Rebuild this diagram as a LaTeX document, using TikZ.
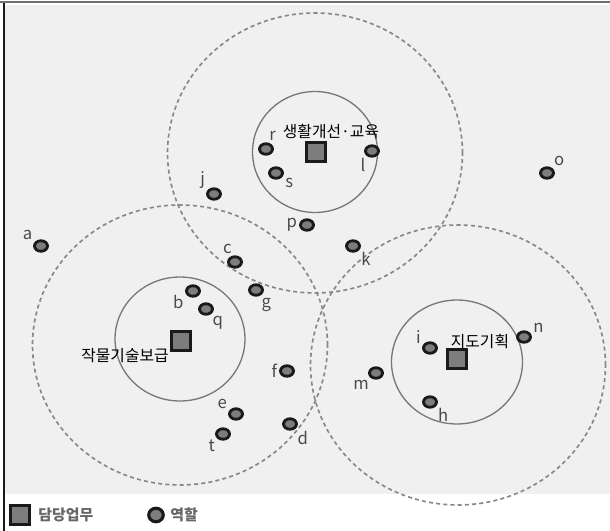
\documentclass[tikz,border=0pt]{standalone}
\usepackage{fontspec}
\setmainfont{Noto Sans CJK KR}
\usepackage{xcolor}
\usepackage{tikz}
\usetikzlibrary{shapes.geometric, positioning}
\definecolor{panel}{HTML}{F0F0F0}
\definecolor{frameline}{HTML}{6E6E6E}
\definecolor{zoneline}{HTML}{888888}
\definecolor{coreline}{HTML}{777777}
\definecolor{dotfill}{HTML}{7D7D7D}
\definecolor{ink}{HTML}{1A1A1A}
\definecolor{lettergray}{HTML}{4A4A4A}

\begin{document}
\begin{tikzpicture}[
    x=0.02cm, y=-0.02cm,
    zone/.style={ellipse, draw=zoneline, line width=0.95pt, dash pattern=on 2.3pt off 1.8pt,
                 minimum width=5.9cm, minimum height=5.6cm, inner sep=0},
    core/.style={ellipse, draw=coreline, line width=0.75pt, inner sep=0},
    dot/.style={ellipse, draw=ink, line width=1.6pt, fill=dotfill,
                minimum width=0.26cm, minimum height=0.21cm, inner sep=0},
    duty/.style={rectangle, draw=ink, line width=1.7pt, fill=dotfill,
                 minimum size=0.38cm, inner sep=0},
    lbl/.style={font=\fontsize{9.5}{10}\selectfont, text=lettergray, inner sep=1pt},
    tag/.style={font=\fontsize{9}{10}\selectfont, text=black, inner sep=0},
    keytext/.style={font=\fontsize{8.5}{9}\selectfont\bfseries, text=black!60, inner sep=0}
  ]
    \useasboundingbox (0,0) rectangle (610,531);
    \fill[white] (0,0) rectangle (610,531);
    \fill[panel] (5,5) rectangle (610,494);
    \draw[frameline, line width=1.2pt] (0,2) -- (610,2);
    \draw[ink, line width=0.8pt] (4,3) -- (4,531);

    % Outer areas
    \node[zone] (toparea) at (315,153) {};
    \node[zone] (leftarea) at (180,345) {};
    \node[zone] (rightarea) at (458,365) {};

    % Inner areas
    \node[core, minimum width=2.5cm, minimum height=2.42cm] (topcore) at (315,152) {};
    \node[core, minimum width=2.6cm, minimum height=2.48cm] (leftcore) at (180,339) {};
    \node[core, minimum width=2.62cm, minimum height=2.48cm] (rightcore) at (457,362) {};

    % Roles
    \node[dot, label={[lbl]150:a}] (a) at (41,246) {};
    \node[dot, label={[lbl]195:b}] (b) at (193,291) {};
    \node[dot, label={[lbl]100:c}] (c) at (235,262) {};
    \node[dot, label={[lbl]-40:d}] (d) at (290,424) {};
    \node[dot, label={[lbl]155:e}] (e) at (236,414) {};
    \node[dot, label={[lbl]180:f}] (f) at (287,371) {};
    \node[dot, label={[lbl]-60:g}] (g) at (256,290) {};
    \node[dot, label={[lbl]-35:h}] (h) at (430,402) {};
    \node[dot, label={[lbl]160:i}] (i) at (430,348) {};
    \node[dot, label={[lbl]155:j}] (j) at (214,194) {};
    \node[dot, label={[lbl]-33:k}] (k) at (353,246) {};
    \node[dot, label={[lbl]-130:l}] (l) at (372,151) {};
    \node[dot, label={[lbl]-135:m}] (m) at (376,373) {};
    \node[dot, label={[lbl]20:n}] (n) at (524,337) {};
    \node[dot, label={[lbl]45:o}] (o) at (547,173) {};
    \node[dot, label={[lbl]180:p}] (p) at (307,225) {};
    \node[dot, label={[lbl]-50:q}] (q) at (206,309) {};
    \node[dot, label={[lbl]80:r}] (r) at (266,149) {};
    \node[dot, label={[lbl]-20:s}] (s) at (276,173) {};
    \node[dot, label={[lbl]-145:t}] (t) at (223,434) {};

    % Duties
    \node[duty] (topduty) at (316,152) {};
    \node[duty] (leftduty) at (181,341) {};
    \node[duty] (rightduty) at (457,359) {};
    \node[tag] (toptag) at (331,132) {생활개선·교육};
    \node[tag] (lefttag) at (125,356) {작물기술보급};
    \node[tag] (righttag) at (480,342) {지도기획};

    % Legend
    \node[duty] (keyduty) at (20,515) {};
    \node[keytext, right=4pt of keyduty] (keydutytext) {담당업무};
    \node[dot, minimum width=0.29cm, minimum height=0.27cm, line width=1.8pt] (keyrole) at (156,515) {};
    \node[keytext, right=3pt of keyrole] (keyroletext) {역할};
  \end{tikzpicture}
\end{document}
